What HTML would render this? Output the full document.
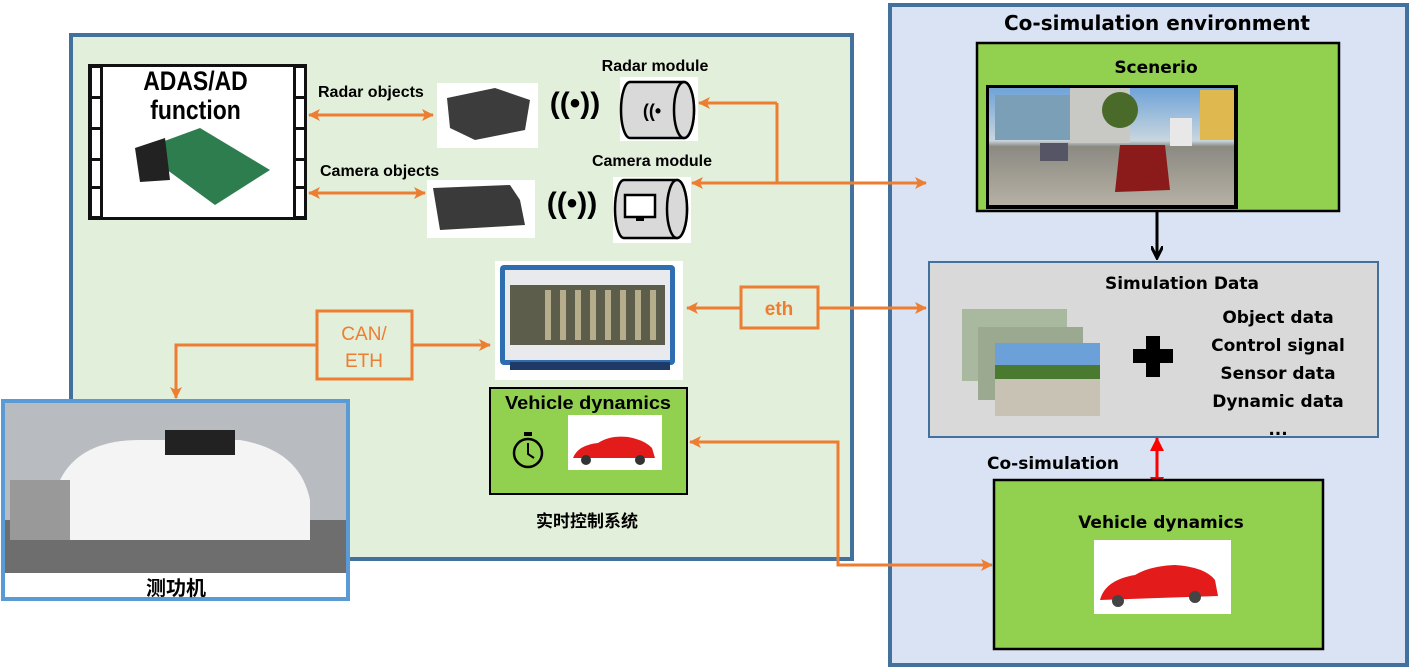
<!DOCTYPE html>
<html><head><meta charset="utf-8"><style>
html,body{margin:0;padding:0;background:#fff;}
svg{display:block;}
.l{font-family:"Liberation Sans","Noto Sans CJK SC",sans-serif;font-weight:bold;}
.r{font-family:"DejaVu Sans","Liberation Sans",sans-serif;font-weight:bold;}
</style></head><body>
<svg width="1411" height="670" viewBox="0 0 1411 670" xmlns="http://www.w3.org/2000/svg">
<defs>
<marker id="ao" markerWidth="12" markerHeight="12" refX="11" refY="6" orient="auto-start-reverse" markerUnits="userSpaceOnUse"><path d="M0,0 L12,6 L0,12 L3,6z" fill="#ed7d31"/></marker>
<marker id="ab" markerWidth="14" markerHeight="12" refX="12" refY="6" orient="auto" markerUnits="userSpaceOnUse"><path d="M0,0 L12,6 L0,12" fill="none" stroke="#000" stroke-width="3"/></marker>
<marker id="ar" markerWidth="14" markerHeight="14" refX="13" refY="7" orient="auto-start-reverse" markerUnits="userSpaceOnUse"><path d="M0,0 L14,7 L0,14z" fill="#f00"/></marker>
<linearGradient id="sky" x1="0" y1="0" x2="0" y2="1"><stop offset="0" stop-color="#6fa3d8"/><stop offset="0.45" stop-color="#c9d6de"/><stop offset="0.5" stop-color="#8b8a82"/><stop offset="1" stop-color="#b6b0a4"/></linearGradient>
</defs>
<rect x="71" y="35" width="781" height="524" fill="#e2efda" stroke="#41719c" stroke-width="4"/>
<rect x="890" y="5" width="517" height="660" fill="#dae3f3" stroke="#41719c" stroke-width="4"/>
<text x="1157" y="30" class="r" font-size="20" text-anchor="middle">Co-simulation environment</text>

<rect x="88" y="64" width="219" height="156" fill="#111"/>
<rect x="103" y="67" width="190" height="150" fill="#fff"/>
<g fill="#fff"><rect x="92" y="68" width="8" height="28"/><rect x="92" y="99" width="8" height="28"/><rect x="92" y="130" width="8" height="28"/><rect x="92" y="161" width="8" height="25"/><rect x="92" y="189" width="8" height="27"/>
<rect x="296" y="68" width="8" height="28"/><rect x="296" y="99" width="8" height="28"/><rect x="296" y="130" width="8" height="28"/><rect x="296" y="161" width="8" height="25"/><rect x="296" y="189" width="8" height="27"/></g>
<text x="196" y="90" class="l" font-size="27" text-anchor="middle" transform="scale(0.85,1) translate(34,0)">ADAS/AD</text>
<text x="196" y="119" class="l" font-size="27" text-anchor="middle" transform="scale(0.85,1) translate(34,0)">function</text>
<polygon points="140,150 200,128 270,170 215,205" fill="#2e7d4f"/>
<polygon points="135,148 165,138 170,180 140,182" fill="#222"/>

<text x="318" y="97" class="l" font-size="16">Radar objects</text>
<line x1="309" y1="115" x2="433" y2="115" stroke="#ed7d31" stroke-width="3" marker-start="url(#ao)" marker-end="url(#ao)"/>
<rect x="437" y="83" width="101" height="65" fill="#fff"/>
<polygon points="447,98 495,88 530,100 525,130 475,140 450,128" fill="#3c3c3c"/>
<text x="575" y="113" font-size="30" class="l" text-anchor="middle">((•))</text>
<text x="655" y="71" class="l" font-size="16" text-anchor="middle">Radar module</text>
<rect x="620" y="77" width="78" height="64" fill="#fff"/>
<path d="M630,82 H684 A10,28 0 0 1 684,138 H630 A9,28 0 0 1 630,82z" fill="#d9d9d9" stroke="#000" stroke-width="2.5"/>
<ellipse cx="684" cy="110" rx="10" ry="28" fill="#d9d9d9" stroke="#000" stroke-width="2.5"/>
<text x="652" y="117" font-size="18" class="l" text-anchor="middle">((•</text>

<text x="320" y="176" class="l" font-size="16">Camera objects</text>
<line x1="309" y1="193" x2="425" y2="193" stroke="#ed7d31" stroke-width="3" marker-start="url(#ao)" marker-end="url(#ao)"/>
<rect x="427" y="180" width="108" height="58" fill="#fff"/>
<path d="M433,188 L510,185 L520,200 L525,225 L440,230 Z" fill="#3a3a3a"/>
<text x="572" y="213" font-size="30" class="l" text-anchor="middle">((•))</text>
<text x="652" y="166" class="l" font-size="16" text-anchor="middle">Camera module</text>
<rect x="613" y="177" width="78" height="66" fill="#fff"/>
<path d="M624,180 H677 A10,29 0 0 1 677,238 H624 A9,29 0 0 1 624,180z" fill="#d9d9d9" stroke="#000" stroke-width="2.5"/>
<ellipse cx="677" cy="209" rx="10" ry="29" fill="#d9d9d9" stroke="#000" stroke-width="2.5"/>
<rect x="625" y="195" width="30" height="22" fill="#fff" stroke="#000" stroke-width="2.5"/>
<rect x="636" y="217" width="8" height="4" fill="#000"/>

<path d="M777,103 V183" stroke="#ed7d31" stroke-width="3" fill="none"/>
<line x1="777" y1="103" x2="699" y2="103" stroke="#ed7d31" stroke-width="3" marker-end="url(#ao)"/>
<line x1="926" y1="183" x2="692" y2="183" stroke="#ed7d31" stroke-width="3" marker-start="url(#ao)" marker-end="url(#ao)"/>

<rect x="495" y="261" width="188" height="119" fill="#fff"/>
<rect x="500" y="265" width="175" height="100" rx="4" fill="#2e6db0"/>
<rect x="505" y="270" width="165" height="90" fill="#e8eaee"/>
<rect x="510" y="285" width="155" height="60" fill="#5d5d4c"/>
<g fill="#b6ad8c"><rect x="545" y="290" width="6" height="50"/><rect x="560" y="290" width="6" height="50"/><rect x="575" y="290" width="6" height="50"/><rect x="590" y="290" width="6" height="50"/><rect x="605" y="290" width="6" height="50"/><rect x="620" y="290" width="6" height="50"/><rect x="635" y="290" width="6" height="50"/><rect x="650" y="290" width="6" height="50"/></g>
<rect x="510" y="362" width="160" height="8" fill="#1f3a66"/>

<rect x="741" y="287" width="77" height="41" fill="none" stroke="#ed7d31" stroke-width="3"/>
<text x="779" y="315" class="l" font-size="19" fill="#ed7d31" text-anchor="middle">eth</text>
<line x1="741" y1="308" x2="687" y2="308" stroke="#ed7d31" stroke-width="3" marker-end="url(#ao)"/>
<line x1="818" y1="308" x2="926" y2="308" stroke="#ed7d31" stroke-width="3" marker-end="url(#ao)"/>

<rect x="317" y="311" width="95" height="68" fill="none" stroke="#ed7d31" stroke-width="3"/>
<text x="364" y="340" class="l" font-size="19" fill="#ed7d31" text-anchor="middle" style="font-weight:normal">CAN/</text>
<text x="364" y="367" class="l" font-size="19" fill="#ed7d31" text-anchor="middle" style="font-weight:normal">ETH</text>
<line x1="412" y1="345" x2="490" y2="345" stroke="#ed7d31" stroke-width="3" marker-end="url(#ao)"/>
<path d="M317,345 H176 V398" stroke="#ed7d31" stroke-width="3" fill="none" marker-end="url(#ao)"/>

<rect x="3" y="401" width="345" height="198" fill="#fff" stroke="#5b9bd5" stroke-width="4"/>
<rect x="5" y="403" width="341" height="170" fill="#b8bcc0"/>
<rect x="5" y="520" width="341" height="53" fill="#6e6e6e"/>
<path d="M60,480 Q80,440 140,440 L240,440 Q300,450 310,500 L310,540 L60,540 Z" fill="#f4f4f4"/>
<rect x="165" y="430" width="70" height="25" fill="#222"/>
<rect x="10" y="480" width="60" height="60" fill="#999"/>
<text x="176" y="595" class="l" font-size="20" text-anchor="middle">测功机</text>

<rect x="490" y="388" width="197" height="106" fill="#92d050" stroke="#000" stroke-width="2"/>
<text x="588" y="409" class="l" font-size="18" text-anchor="middle" textLength="166" lengthAdjust="spacingAndGlyphs">Vehicle dynamics</text>
<circle cx="528" cy="453" r="14" fill="none" stroke="#000" stroke-width="2.5"/>
<rect x="524" y="432" width="8" height="4" fill="#000"/>
<path d="M528,443 V454 L534,458" stroke="#000" stroke-width="2" fill="none"/>
<rect x="568" y="415" width="94" height="55" fill="#fff"/>
<path d="M573,458 Q578,445 598,443 Q610,435 628,437 Q645,440 652,448 L655,458 Z" fill="#e41b1b"/>
<circle cx="586" cy="460" r="5" fill="#333"/><circle cx="640" cy="460" r="5" fill="#333"/>
<line x1="830" y1="442" x2="690" y2="442" stroke="#ed7d31" stroke-width="3" marker-end="url(#ao)"/>
<path d="M830,442 H838 V565 H992" stroke="#ed7d31" stroke-width="3" fill="none" marker-end="url(#ao)"/>
<text x="587" y="527" class="l" font-size="17" text-anchor="middle">实时控制系统</text>

<rect x="977" y="43" width="362" height="168" fill="#92d050" stroke="#000" stroke-width="2.5"/>
<text x="1156" y="73" class="r" font-size="17" text-anchor="middle">Scenerio</text>
<rect x="986" y="85" width="252" height="124" fill="#000"/>
<rect x="989" y="88" width="245" height="117" fill="url(#sky)"/>
<rect x="995" y="95" width="80" height="45" fill="#7a9fb7"/>
<rect x="1070" y="88" width="60" height="55" fill="#c8c8c4"/>
<rect x="1200" y="90" width="34" height="50" fill="#e0b850"/>
<circle cx="1120" cy="110" r="18" fill="#4a6a2a"/>
<path d="M1120,145 L1165,145 L1170,190 L1115,192 Z" fill="#8b1a1a"/>
<rect x="1170" y="118" width="22" height="28" fill="#e8e8e8"/>
<rect x="1040" y="143" width="28" height="18" fill="#556"/>
<line x1="1157" y1="211" x2="1157" y2="258" stroke="#000" stroke-width="3" marker-end="url(#ab)"/>

<rect x="929" y="262" width="449" height="175" fill="#d9d9d9" stroke="#41719c" stroke-width="2"/>
<text x="1182" y="289" class="r" font-size="17" text-anchor="middle">Simulation Data</text>
<rect x="962" y="309" width="105" height="72" fill="#a9b9a0"/>
<rect x="978" y="327" width="105" height="73" fill="#9aa98f"/>
<rect x="995" y="343" width="105" height="73" fill="#c8c2b4"/>
<rect x="995" y="343" width="105" height="30" fill="#6ba0d8"/>
<rect x="995" y="365" width="105" height="14" fill="#4a7a30"/>
<path d="M1133,349 H1146 V336 H1160 V349 H1173 V363 H1160 V377 H1146 V363 H1133 Z" fill="#000"/>
<g class="r" font-size="17" text-anchor="middle">
<text x="1278" y="323">Object data</text>
<text x="1278" y="351">Control signal</text>
<text x="1278" y="379">Sensor data</text>
<text x="1278" y="407">Dynamic data</text>
<text x="1278" y="435">...</text>
</g>
<line x1="1157" y1="438" x2="1157" y2="490" stroke="#f00" stroke-width="3" marker-start="url(#ar)" marker-end="url(#ar)"/>
<text x="987" y="469" class="r" font-size="17">Co-simulation</text>

<rect x="994" y="480" width="329" height="169" fill="#92d050" stroke="#000" stroke-width="2.5"/>
<text x="1161" y="528" class="r" font-size="17" text-anchor="middle">Vehicle dynamics</text>
<rect x="1094" y="540" width="137" height="74" fill="#fff"/>
<path d="M1100,600 Q1105,580 1135,575 Q1150,566 1175,565 Q1205,567 1215,580 L1218,596 Z" fill="#e41b1b"/>
<circle cx="1118" cy="601" r="6" fill="#444"/><circle cx="1195" cy="597" r="6" fill="#444"/>
</svg>
</body></html>
